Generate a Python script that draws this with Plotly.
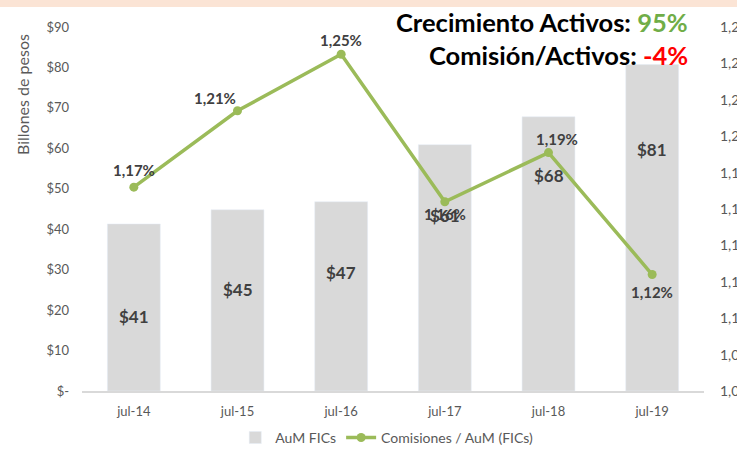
import plotly.graph_objects as go

categories = ["jul-14", "jul-15", "jul-16", "jul-17", "jul-18", "jul-19"]
aum_values = [41.3, 44.8, 46.8, 60.9, 67.8, 80.7]
aum_labels = ["$41", "$45", "$47", "$61", "$68", "$81"]
comision_values = [1.172, 1.214, 1.245, 1.164, 1.191, 1.124]
comision_labels = ["1,17%", "1,21%", "1,25%", "1,16%", "1,19%", "1,12%"]
left_tickvals = [0, 10, 20, 30, 40, 50, 60, 70, 80, 90]
left_ticktext = ["$-", "$10", "$20", "$30", "$40", "$50", "$60", "$70", "$80", "$90"]

# label placement (layout styling)
bar_label_y = [18.3, 25.2, 29.2, 43.5, 53.4, 59.8]
line_label_shift = [(0, 17), (-23, 13), (0, 14), (0, -12), (8, 14), (0, -17)]

FONT = "Lato"
GRAY = "#595959"
DARK = "#404040"
GREEN = "#9bbb59"

fig = go.Figure()
fig.add_trace(go.Bar(
    x=categories, y=aum_values, name="AuM FICs",
    marker_color="#d9d9d9", width=0.51, yaxis="y",
))
fig.add_trace(go.Scatter(
    x=categories, y=comision_values, name="Comisiones / AuM (FICs)",
    mode="lines+markers", yaxis="y2",
    line=dict(color=GREEN, width=3.5), marker=dict(color=GREEN, size=9),
))

ann = []
for c, lab, ly in zip(categories, aum_labels, bar_label_y):
    ann.append(dict(x=c, y=ly, xref="x", yref="y", text=lab, showarrow=False,
                    font=dict(family=FONT, size=17, color=DARK, weight="bold")))
for c, v, lab, (dx, dy) in zip(categories, comision_values, comision_labels, line_label_shift):
    ann.append(dict(x=c, y=v, xref="x", yref="y2", text=lab, showarrow=False,
                    xshift=dx, yshift=dy,
                    font=dict(family=FONT, size=15, color=DARK, weight="bold")))

ann.append(dict(x=(690 - 82) / 622, y=1 + (27 - 22) / 364, xref="paper", yref="paper",
                xanchor="right", yanchor="middle", showarrow=False,
                text="<b>Crecimiento Activos: <span style='color:#70ad47'>95%</span></b>",
                font=dict(family=FONT, size=25.5, color="black")))
ann.append(dict(x=(690 - 82) / 622, y=1 + (27 - 55) / 364, xref="paper", yref="paper",
                xanchor="right", yanchor="middle", showarrow=False,
                text="<b>Comisión/Activos: <span style='color:#ff0000'>-4%</span></b>",
                font=dict(family=FONT, size=25.5, color="black")))
ann.append(dict(x=(22 - 82) / 622, y=(391 - 95) / 364, xref="paper", yref="paper",
                xanchor="center", yanchor="middle",
                textangle=-90, showarrow=False, text="Billones de pesos",
                font=dict(family=FONT, size=16, color=GRAY)))

fig.update_layout(
    width=737, height=456,
    margin=dict(l=82, r=33, t=27, b=65, autoexpand=False),
    paper_bgcolor="white", plot_bgcolor="white",
    separators=",.",
    font=dict(family=FONT, size=13, color=GRAY),
    showlegend=True,
    legend=dict(orientation="h", x=0.49, xanchor="center", y=-0.085, yanchor="top",
                font=dict(family=FONT, size=14, color=GRAY), traceorder="normal"),
    annotations=ann,
    shapes=[dict(type="rect", xref="paper", yref="paper",
                 x0=-82 / 622, x1=(737 - 82) / 622,
                 y0=1 + (27 - 7) / 364, y1=1 + 30 / 364,
                 fillcolor="#fbe4d5", line_width=0, layer="above")],
    xaxis=dict(showline=True, linecolor="#d9d9d9", linewidth=1.5, showgrid=False,
               ticks="", tickfont=dict(size=13, color=GRAY), ticklabelstandoff=8),
    yaxis=dict(range=[0, 90], tickvals=left_tickvals, ticktext=left_ticktext,
               showgrid=False, showline=False, zeroline=False, ticks="",
               tickfont=dict(size=13, color=GRAY), ticklabelstandoff=12, automargin=False),
    yaxis2=dict(range=[1.06, 1.26], dtick=0.02, tick0=1.06, tickformat=".2f", ticksuffix="%",
                overlaying="y", side="right", showgrid=False, showline=False, zeroline=False,
                ticks="", tickfont=dict(size=14, color=GRAY), ticklabelstandoff=15,
                automargin=False),
    bargap=0.49,
)

fig.write_html("out.html", config={"displayModeBar": False},
               post_script="document.body.style.margin='0';")
